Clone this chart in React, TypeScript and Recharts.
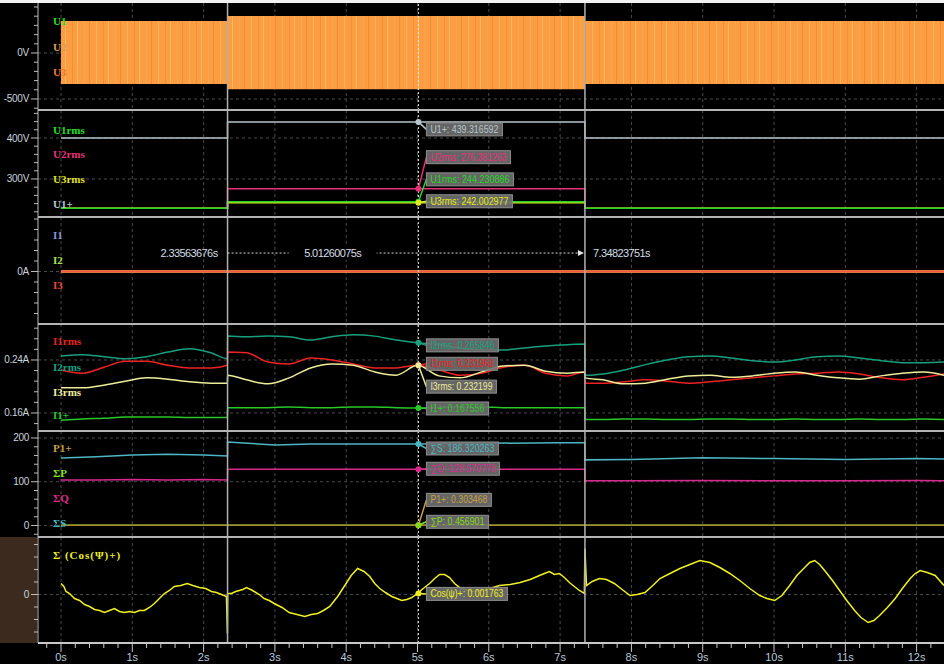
import React from "react";
import {
  Area,
  CartesianGrid,
  ComposedChart,
  Line,
  ReferenceDot,
  ReferenceLine,
  XAxis,
  YAxis,
} from "recharts";

const SANS = "'Liberation Sans', Arial, sans-serif";
const SERIF = "'Liberation Serif', 'DejaVu Serif', serif";

const T_MIN = -0.3226;
const T_MAX = 12.384;
const CURSOR_A = 2.33563676;
const CURSOR_B = 7.34823751;
const READ_T = 5.0126;

const gridSeconds = [0, 1, 2, 3, 4, 5, 6, 7, 8, 9, 10, 11, 12];

// U1..U3 raw waveforms, shown as their envelope (V)
const uTimes = [0, CURSOR_A, CURSOR_B, T_MAX];
const uHigh = [348, 403, 348, 348];
const uLow = [-337, -393, -337, -337];

// rms + positive sequence voltage (V)
const rmsTimes = [0, CURSOR_A, CURSOR_B, T_MAX];
const u1Plus = [400, 439.3, 400, 400];
const u1Rms = [228.5, 244.2, 228.5, 228.5];
const u2Rms = [228.5, 276.4, 228.5, 228.5];
const u3Rms = [228.5, 242.0, 228.5, 228.5];

// phase currents (A)
const iTimes = [0, T_MAX];
const i1 = [0, 0];
const i2 = [0, 0];
const i3 = [0, 0];

// rms currents (A)
const irmsTimes = [
  0, 0.3, 0.6, 0.9, 1.2, 1.5, 1.8, 2.1, 2.335, 2.336,
  2.6, 2.9, 3.2, 3.5, 3.8, 4.1, 4.4, 4.7, 5.0, 5.3,
  5.6, 5.9, 6.2, 6.5, 6.8, 7.1, 7.347, 7.349, 7.6, 7.9,
  8.2, 8.5, 8.8, 9.1, 9.4, 9.7, 10.0, 10.3, 10.6, 10.9,
  11.2, 11.5, 11.8, 12.1, 12.384,
];
const i1Rms = [
  0.225, 0.22, 0.229, 0.238, 0.238, 0.232, 0.228, 0.228, 0.232, 0.252,
  0.251, 0.237, 0.234, 0.243, 0.24, 0.234, 0.228, 0.228, 0.232, 0.225,
  0.217, 0.22, 0.229, 0.232, 0.22, 0.216, 0.222, 0.205, 0.205, 0.207,
  0.21, 0.208, 0.205, 0.207, 0.21, 0.213, 0.216, 0.219, 0.22, 0.222,
  0.219, 0.213, 0.21, 0.214, 0.219,
];
const i2Rms = [
  0.246, 0.248, 0.245, 0.242, 0.245, 0.252, 0.257, 0.251, 0.242, 0.276,
  0.275, 0.276, 0.275, 0.27, 0.275, 0.278, 0.276, 0.27, 0.266, 0.263,
  0.258, 0.255, 0.255, 0.258, 0.261, 0.263, 0.264, 0.217, 0.219, 0.225,
  0.233, 0.24, 0.245, 0.246, 0.243, 0.239, 0.237, 0.24, 0.245, 0.246,
  0.243, 0.239, 0.236, 0.236, 0.237,
];
const i3Rms = [
  0.198, 0.198, 0.202, 0.208, 0.213, 0.211, 0.207, 0.205, 0.205, 0.217,
  0.21, 0.204, 0.213, 0.228, 0.234, 0.232, 0.222, 0.217, 0.232, 0.216,
  0.213, 0.222, 0.231, 0.232, 0.223, 0.22, 0.222, 0.213, 0.21, 0.204,
  0.205, 0.211, 0.216, 0.217, 0.214, 0.216, 0.22, 0.222, 0.217, 0.213,
  0.211, 0.216, 0.22, 0.222, 0.217,
];
const i1Plus = [
  0.149, 0.151, 0.152, 0.154, 0.154, 0.154, 0.153, 0.153, 0.153, 0.168,
  0.168, 0.168, 0.169, 0.168, 0.168, 0.169, 0.169, 0.168, 0.1676, 0.168,
  0.169, 0.169, 0.168, 0.168, 0.168, 0.168, 0.168, 0.15, 0.15, 0.151,
  0.151, 0.15, 0.15, 0.151, 0.151, 0.15, 0.15, 0.151, 0.15, 0.15,
  0.151, 0.15, 0.15, 0.151, 0.15,
];

// powers
const powTimes = [
  0, 0.5, 1.0, 1.5, 2.0, 2.335, 2.336, 3, 3.5, 4, 5, 6, 7, 7.347, 7.349,
  8, 9, 10, 11, 12, 12.384,
];
const sumS = [
  154, 157, 161, 163, 161, 159, 191, 184, 186, 186, 186.3, 188, 189, 189, 150,
  151, 155, 153, 151, 153, 152,
];
const sumQ = [
  104, 104, 105, 104, 105, 104, 128.6, 128.6, 128.3, 128.6, 128.57, 128.8, 128.6, 128.6, 102,
  102, 103, 102, 102, 103, 102,
];
const p1Plus = [
  0.4, 0.3, 0.5, 0.3, 0.4, 0.3, 0.3, 0.4, 0.3, 0.5, 0.3035, 0.4, 0.3, 0.3, 0.4,
  0.3, 0.5, 0.4, 0.3, 0.4, 0.3,
];
const sumP = [
  0.5, 0.4, 0.45, 0.5, 0.4, 0.45, 0.45, 0.5, 0.4, 0.45, 0.4569, 0.5, 0.4, 0.45, 0.5,
  0.4, 0.45, 0.5, 0.4, 0.45, 0.5,
];

// sum cos(psi)+
const cosTimes = [
  0.0, 0.04, 0.07, 0.12, 0.19, 0.26, 0.33, 0.4, 0.47, 0.54,
  0.61, 0.68, 0.75, 0.82, 0.89, 0.96, 1.03, 1.1, 1.17, 1.24,
  1.31, 1.38, 1.45, 1.52, 1.59, 1.68, 1.77, 1.85, 1.94, 2.03,
  2.11, 2.18, 2.25, 2.32, 2.334, 2.337, 2.39, 2.45, 2.5, 2.55,
  2.6, 2.66, 2.71, 2.78, 2.85, 2.92, 2.99, 3.1, 3.2, 3.31,
  3.42, 3.51, 3.6, 3.68, 3.77, 3.88, 3.98, 4.07, 4.16, 4.25,
  4.33, 4.4, 4.47, 4.55, 4.64, 4.71, 4.78, 4.85, 4.92, 5.0,
  5.08, 5.17, 5.24, 5.31, 5.38, 5.45, 5.52, 5.59, 5.66, 5.73,
  5.8, 5.87, 6.01, 6.15, 6.3, 6.44, 6.58, 6.71, 6.78, 6.85,
  6.92, 6.99, 7.06, 7.13, 7.2, 7.27, 7.34, 7.348, 7.37, 7.45,
  7.55, 7.65, 7.76, 7.87, 7.98, 8.08, 8.19, 8.3, 8.4, 8.54,
  8.68, 8.82, 8.96, 9.1, 9.24, 9.38, 9.52, 9.66, 9.8, 9.9,
  10.01, 10.11, 10.22, 10.32, 10.43, 10.5, 10.57, 10.64, 10.71, 10.82,
  10.92, 11.02, 11.13, 11.22, 11.32, 11.4, 11.48, 11.59, 11.7, 11.8,
  11.91, 11.98, 12.05, 12.15, 12.26, 12.384,
];
const cosValues = [
  0.0176, 0.0128, 0.0048, 0.0016, -0.0064, -0.0096, -0.016, -0.0192, -0.024, -0.0256,
  -0.0288, -0.0256, -0.0224, -0.0272, -0.0288, -0.0272, -0.0288, -0.0256, -0.0256, -0.0208,
  -0.0144, -0.0064, 0.0016, 0.0064, 0.0128, 0.0144, 0.0176, 0.0144, 0.0112, 0.0096,
  0.0048, 0.0032, 0.0, -0.0032, -0.0624, 0.0016, 0.0016, 0.0048, 0.0064, 0.008,
  0.0112, 0.008, 0.0048, 0.0, -0.0064, -0.0096, -0.0144, -0.0208, -0.0288, -0.032,
  -0.0352, -0.032, -0.0304, -0.0256, -0.0192, -0.0032, 0.0144, 0.0304, 0.0416, 0.0368,
  0.0288, 0.0176, 0.0096, 0.0032, -0.0032, -0.0064, -0.0096, -0.008, -0.0048, 0.0018,
  0.0096, 0.0176, 0.0256, 0.032, 0.032, 0.0272, 0.0176, 0.0112, 0.008, 0.0064,
  0.0048, 0.0064, 0.0096, 0.0144, 0.016, 0.0192, 0.024, 0.0304, 0.0336, 0.0368,
  0.032, 0.0336, 0.0272, 0.0192, 0.0128, 0.0064, 0.0016, 0.0736, 0.0144, 0.0208,
  0.0256, 0.024, 0.0176, 0.008, -0.0016, 0.0, 0.0032, 0.0144, 0.0256, 0.0336,
  0.0416, 0.048, 0.0544, 0.0512, 0.0432, 0.0336, 0.0224, 0.0096, -0.0016, -0.0064,
  -0.0096, -0.0016, 0.0144, 0.0304, 0.0432, 0.0512, 0.0544, 0.048, 0.0384, 0.0224,
  0.0064, -0.0096, -0.0256, -0.0368, -0.0448, -0.0416, -0.0336, -0.0208, -0.0064, 0.0096,
  0.0256, 0.0336, 0.0384, 0.0352, 0.0304, 0.0144,
];

// cursor readouts
const voltReadNames = ["U1+", "U2rms", "U1rms", "U3rms"];
const voltReadValues = [439.316592, 276.381263, 244.230886, 242.002977];
const currReadNames = ["I2rms", "I1rms", "I3rms", "I1+"];
const currReadValues = [0.265846, 0.231968, 0.232199, 0.167556];
const powReadNames = ["∑S", "∑Q", "P1+", "∑P"];
const powReadValues = [186.320263, 128.570778, 0.303468, 0.456901];
const cosReadNames = ["Cos(ψ)+"];
const cosReadValues = [0.001763];
const cursorSpan = [CURSOR_A, 5.01260075, CURSOR_B];

type Tick = { v: number; text: string };

function yTick(labels: Tick[]) {
  return (props: any) => {
    const { y, payload } = props;
    const hit = labels.find((l) => Math.abs(l.v - payload.value) < 1e-9);
    return (
      <g>
        <line x1={hit ? 31 : 34} x2={38} y1={y} y2={y} stroke="#bdbdbd" />
        {hit && (
          <text x={29} y={y + 3.5} textAnchor="end" fill="#c9d3dd" fontSize={10} fontFamily={SANS} letterSpacing={-0.3}>
            {hit.text}
          </text>
        )}
      </g>
    );
  };
}

const xTicks = [-0.2, ...gridSeconds.flatMap((s) => [s, s + 0.2, s + 0.4, s + 0.6, s + 0.8])]
  .map((v) => Math.round(v * 10) / 10)
  .filter((v) => v <= T_MAX);

const xTick = (props: any) => {
  const { x, payload } = props;
  const v = payload.value;
  const major = Math.abs(v - Math.round(v)) < 1e-6;
  return (
    <g>
      <line x1={x} x2={x} y1={106} y2={major ? 115 : 111} stroke="#c8c8c8" />
      {major && (
        <text x={x} y={124} textAnchor="middle" fill="#b9c9d9" fontSize={11} fontFamily={SANS}>
          {Math.round(v)}s
        </text>
      )}
    </g>
  );
};

function readout(color: string, text: string, dy: number, w: number) {
  return (p: any) => {
    const { cx, cy } = p;
    const bx = cx + 8;
    const by = cy + dy;
    return (
      <g>
        <line x1={cx} y1={cy} x2={bx} y2={by + 6.5} stroke={color} strokeWidth={1.5} />
        <circle cx={cx} cy={cy} r={3} fill={color} />
        <rect x={bx} y={by} width={w} height={13} fill="rgba(112,112,112,0.9)" stroke="#8e8e8e" />
        <text x={bx + 4} y={by + 10} fill={color} fontSize={10.5} fontFamily={SANS}
          textLength={w - 8} lengthAdjust="spacingAndGlyphs">
          {text}
        </text>
      </g>
    );
  };
}

function Panel(props: {
  height: number;
  domain: [number, number];
  ticks: number[];
  labels: Tick[];
  data: any[];
  children?: React.ReactNode;
  overlay?: React.ReactNode;
  xAxis?: boolean;
}) {
  const { height, domain, ticks, labels, data, children, overlay, xAxis } = props;
  return (
    <ComposedChart width={944} height={height} data={data} margin={{ top: 0, right: 0, bottom: 0, left: 0 }}>
      <CartesianGrid
        verticalValues={gridSeconds}
        horizontalValues={labels.map((l) => l.v)}
        stroke="#4a4a4a"
        strokeDasharray="3 3"
      />
      <XAxis
        type="number"
        dataKey="t"
        domain={[T_MIN, T_MAX]}
        allowDataOverflow
        hide={!xAxis}
        height={21}
        ticks={xTicks}
        interval={0}
        tick={xTick}
        tickLine={false}
        axisLine={{ stroke: "#c8c8c8", strokeWidth: 2 }}
      />
      <YAxis
        type="number"
        domain={domain}
        allowDataOverflow
        ticks={ticks}
        interval={0}
        width={38}
        tick={yTick(labels)}
        tickLine={false}
        tickSize={0}
        axisLine={{ stroke: "#bcbcbc" }}
      />
      {children}
      <ReferenceLine x={CURSOR_A} stroke="#b0b0b0" strokeWidth={1.5} />
      <ReferenceLine x={CURSOR_B} stroke="#b0b0b0" strokeWidth={1.5} />
      <ReferenceLine x={READ_T} stroke="#e6e6e6" strokeDasharray="2 2" />
      {overlay}
    </ComposedChart>
  );
}

const uData = uTimes.map((t, i) => ({ t, band: [uLow[i], uHigh[i]] }));
const rmsData = rmsTimes.map((t, i) => ({ t, u1p: u1Plus[i], u1: u1Rms[i], u2: u2Rms[i], u3: u3Rms[i] }));
const iData = iTimes.map((t, k) => ({ t, i1: i1[k], i2: i2[k], i3: i3[k] }));
const irmsData = irmsTimes.map((t, k) => ({ t, a: i1Rms[k], b: i2Rms[k], c: i3Rms[k], p: i1Plus[k] }));
const powData = powTimes.map((t, k) => ({ t, s: sumS[k], q: sumQ[k], p1: p1Plus[k], p: sumP[k] }));
const cosData = cosTimes.map((t, k) => ({ t, c: cosValues[k] }));

const label = (text: string, color: string, cy: number, extra?: React.CSSProperties) => (
  <div
    key={text + cy}
    style={{
      position: "absolute",
      left: 53,
      top: cy - 7,
      height: 14,
      lineHeight: "14px",
      color,
      font: `bold 11px ${SERIF}`,
      whiteSpace: "pre",
      ...extra,
    }}
  >
    {text}
  </div>
);

const fmt = (n: string, v: number) => `${n}: ${v.toFixed(6)}`;

const timeText = (x: number, y: number, anchor: "start" | "middle" | "end", s: string) => (
  <text x={x} y={y} textAnchor={anchor} fill="#d4dde6" fontSize={11} fontFamily={SANS} letterSpacing={-0.6}>
    {s}
  </text>
);

export default function App() {
  const voltColors = ["#b4c6cc", "#e8307a", "#22d822", "#e6e620"];
  const voltDy = [1, -38, -29, -8];
  const voltW = [76, 84, 87, 86];
  const currColors = ["#18a07e", "#ee2222", "#eeee9a", "#28c828"];
  const currDy = [-4, -8, 15, -6];
  const currW = [72, 71, 70, 62];
  const powColors = ["#4cb6c2", "#d82a8e", "#c8a040", "#84d820"];
  const powDy = [-2, -7, -32, -10];
  const powW = [72, 73, 65, 62];

  return (
    <div style={{ position: "absolute", left: 0, top: 0, width: 944, height: 664, background: "#000", overflow: "hidden" }}>
      <div style={{ position: "absolute", left: 0, top: 0, width: 944, height: 3, background: "#f2f2f2" }} />
      <div style={{ position: "absolute", left: 0, top: 537, width: 37, height: 106, background: "#3b2a1d" }} />

      <div style={{ position: "absolute", left: 0, top: 3 }}>
        <Panel height={107} domain={[-619.6, 543.5]} ticks={[-600, -500, -400, -300, -200, -100, 0, 100, 200, 300, 400, 500]}
          labels={[{ v: 0, text: "0V" }, { v: -500, text: "-500V" }]} data={uData}>
          <defs>
            <pattern id="wave" width="31" height="8" patternUnits="userSpaceOnUse">
              <rect width="31" height="8" fill="#fb9d43" />
              <rect x="3" width="1" height="8" fill="#fdb25c" />
              <rect x="10" width="1" height="8" fill="#f48f36" />
              <rect x="15" width="1" height="8" fill="#feb862" />
              <rect x="22" width="1" height="8" fill="#f9a64e" />
              <rect x="27" width="1" height="8" fill="#f28c34" />
            </pattern>
          </defs>
          <Area dataKey="band" type="stepAfter" fill="url(#wave)" fillOpacity={1} stroke="none" isAnimationActive={false} />
        </Panel>
      </div>

      <div style={{ position: "absolute", left: 0, top: 110 }}>
        <Panel height={107} domain={[207.3, 468.3]} ticks={[220, 240, 260, 280, 300, 320, 340, 360, 380, 400, 420, 440, 460]}
          labels={[{ v: 400, text: "400V" }, { v: 300, text: "300V" }]} data={rmsData}
          overlay={voltReadValues.map((v, k) => (
            <ReferenceDot key={k} x={READ_T} y={v} r={3}
              shape={readout(voltColors[k], fmt(voltReadNames[k], v), voltDy[k], voltW[k])} />
          ))}>
          <Line dataKey="u1p" type="stepAfter" stroke="#b4c6cc" strokeWidth={1.5} dot={false} isAnimationActive={false} />
          <Line dataKey="u2" type="stepAfter" stroke="#e8307a" strokeWidth={1.5} dot={false} isAnimationActive={false} />
          <Line dataKey="u3" type="stepAfter" stroke="#e6e620" strokeWidth={1.5} dot={false} isAnimationActive={false} />
          <Line dataKey="u1" type="stepAfter" stroke="#22d822" strokeWidth={1.5} dot={false} isAnimationActive={false} />
        </Panel>
      </div>

      <div style={{ position: "absolute", left: 0, top: 217 }}>
        <Panel height={107} domain={[-5.0, 5.19]} ticks={[-4, -3, -2, -1, 0, 1, 2, 3, 4, 5]}
          labels={[{ v: 0, text: "0A" }]} data={iData}
          overlay={[
            <ReferenceLine key="span" segment={[{ x: cursorSpan[0], y: 1.76 }, { x: cursorSpan[2] - 0.08, y: 1.76 }]}
              stroke="#d8d8d8" strokeDasharray="2 2" />,
            <ReferenceDot key="ta" x={cursorSpan[0]} y={1.76} r={1}
              shape={(p: any) => timeText(p.cx - 10, p.cy + 4, "end", `${cursorSpan[0].toFixed(8)}s`)} />,
            <ReferenceDot key="tm" x={3.81} y={1.76} r={1}
              shape={(p: any) => (
                <g>
                  <rect x={p.cx - 44} y={p.cy - 7} width={88} height={14} fill="#000" />
                  {timeText(p.cx, p.cy + 4, "middle", `${cursorSpan[1].toFixed(8)}s`)}
                </g>
              )} />,
            <ReferenceDot key="tb" x={cursorSpan[2]} y={1.76} r={1}
              shape={(p: any) => (
                <g>
                  <polygon points={`${p.cx - 1},${p.cy} ${p.cx - 7},${p.cy - 3} ${p.cx - 7},${p.cy + 3}`} fill="#e6e6e6" />
                  {timeText(p.cx + 8, p.cy + 4, "start", `${cursorSpan[2].toFixed(8)}s`)}
                </g>
              )} />,
          ]}>
          <Line dataKey="i1" stroke="#8c98d8" strokeWidth={2.5} dot={false} isAnimationActive={false} />
          <Line dataKey="i2" stroke="#a8e050" strokeWidth={2.5} dot={false} isAnimationActive={false} />
          <Line dataKey="i3" stroke="#f45a3c" strokeWidth={2.5} dot={false} isAnimationActive={false} />
        </Panel>
      </div>

      <div style={{ position: "absolute", left: 0, top: 324 }}>
        <Panel height={107} domain={[0.1328, 0.2943]}
          ticks={[0.144, 0.16, 0.176, 0.192, 0.208, 0.224, 0.24, 0.256, 0.272, 0.288]}
          labels={[{ v: 0.24, text: "0.24A" }, { v: 0.16, text: "0.16A" }]} data={irmsData}
          overlay={currReadValues.map((v, k) => (
            <ReferenceDot key={k} x={READ_T} y={v} r={3}
              shape={readout(currColors[k], fmt(currReadNames[k], v), currDy[k], currW[k])} />
          ))}>
          <Line dataKey="b" type="monotone" stroke="#18a07e" strokeWidth={1.5} dot={false} isAnimationActive={false} />
          <Line dataKey="a" type="monotone" stroke="#ee2222" strokeWidth={1.5} dot={false} isAnimationActive={false} />
          <Line dataKey="c" type="monotone" stroke="#eeee9a" strokeWidth={1.5} dot={false} isAnimationActive={false} />
          <Line dataKey="p" type="monotone" stroke="#28c828" strokeWidth={1.5} dot={false} isAnimationActive={false} />
        </Panel>
      </div>

      <div style={{ position: "absolute", left: 0, top: 431 }}>
        <Panel height={106} domain={[-26.3, 216]} ticks={[-20, 0, 20, 40, 60, 80, 100, 120, 140, 160, 180, 200]}
          labels={[{ v: 200, text: "200" }, { v: 100, text: "100" }, { v: 0, text: "0" }]} data={powData}
          overlay={powReadValues.map((v, k) => (
            <ReferenceDot key={k} x={READ_T} y={v} r={3}
              shape={readout(powColors[k], fmt(powReadNames[k], v), powDy[k], powW[k])} />
          ))}>
          <Line dataKey="s" stroke="#4cb6c2" strokeWidth={1.5} dot={false} isAnimationActive={false} />
          <Line dataKey="q" stroke="#d82a8e" strokeWidth={1.5} dot={false} isAnimationActive={false} />
          <Line dataKey="p" stroke="#84d820" strokeWidth={1.5} dot={false} isAnimationActive={false} />
          <Line dataKey="p1" stroke="#a08c30" strokeWidth={1.5} dot={false} isAnimationActive={false} />
        </Panel>
      </div>

      <div style={{ position: "absolute", left: 0, top: 537 }}>
        <Panel height={127} domain={[-0.0776, 0.092]} ticks={[-0.06, -0.04, -0.02, 0, 0.02, 0.04, 0.06, 0.08]}
          labels={[{ v: 0, text: "0" }]} data={cosData} xAxis
          overlay={cosReadValues.map((v, k) => (
            <ReferenceDot key={k} x={READ_T} y={v} r={3}
              shape={readout("#f0f020", fmt(cosReadNames[k], v), -6, 81)} />
          ))}>
          <Line dataKey="c" stroke="#f0f020" strokeWidth={1.5} dot={false} isAnimationActive={false} />
        </Panel>
      </div>

      {[110, 217, 324, 431, 537].map((y) => (
        <div key={y} style={{ position: "absolute", left: 38, top: y - 1, width: 906, height: 2, background: "#b4b4b4" }} />
      ))}

      {label("U1", "#22e022", 22)}
      {label("U2", "#d8a050", 48)}
      {label("U3", "#e87a28", 73)}
      {label("U1rms", "#22e022", 131)}
      {label("U2rms", "#e8307a", 155)}
      {label("U3rms", "#e0e020", 180)}
      {label("U1+", "#b8c8d0", 205)}
      {label("I1", "#8c98d8", 236)}
      {label("I2", "#a8e050", 261)}
      {label("I3", "#e84838", 286)}
      {label("I1rms", "#e82020", 342)}
      {label("I2rms", "#18a080", 368)}
      {label("I3rms", "#f0f0a0", 393)}
      {label("I1+", "#28c828", 416)}
      {label("P1+", "#c8a040", 449)}
      {label("ΣP", "#88e020", 474)}
      {label("ΣQ", "#e02890", 499)}
      {label("ΣS", "#48b8c8", 524)}
      {label("Σ (Cos(Ψ)+)", "#f0f020", 556, { letterSpacing: 1 })}
    </div>
  );
}
